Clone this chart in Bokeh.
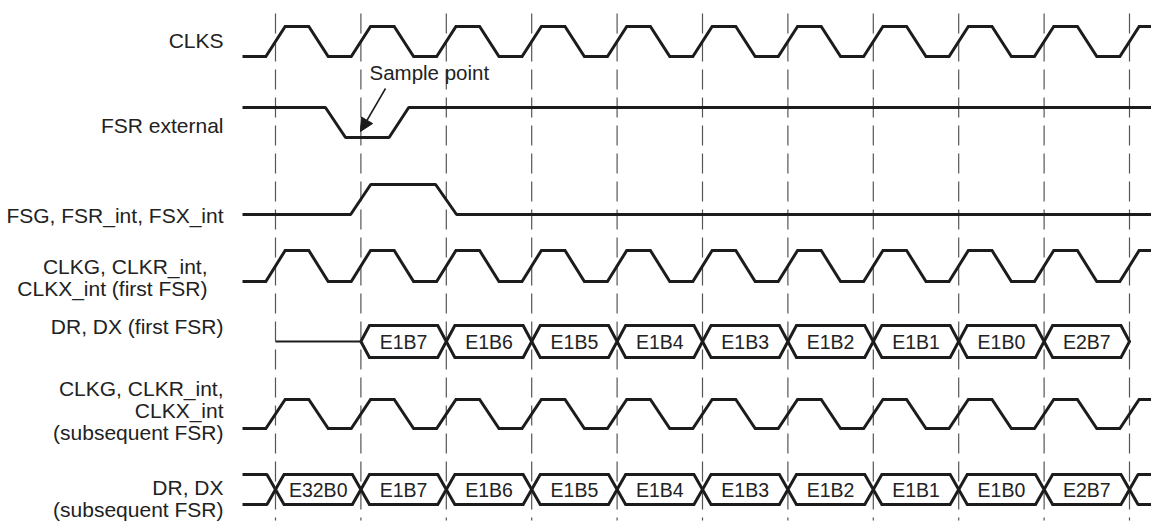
from bokeh.plotting import figure
from bokeh.models import Range1d, Arrow, NormalHead
from bokeh.embed import file_html
from bokeh.resources import INLINE
from bokeh.core.properties import value

# ---------------- data (time in clock periods) ----------------
clock_rise_centers = [0, 1, 2, 3, 4, 5, 6, 7, 8, 9, 10, 11]
fsr_fall = [0.585, 0.82]      # FSR external falling edge (start, end)
fsr_rise = [1.33, 1.56]       # FSR external rising edge (start, end)
fsg_rise = [0.88, 1.115]      # FSG rising edge
fsg_fall = [1.875, 2.12]      # FSG falling edge
sample_point_t = 1.0

dr_first_start = [1, 2, 3, 4, 5, 6, 7, 8, 9]
dr_first_labels = ["E1B7", "E1B6", "E1B5", "E1B4", "E1B3", "E1B2", "E1B1", "E1B0", "E2B7"]
dr_sub_start = [0, 1, 2, 3, 4, 5, 6, 7, 8, 9]
dr_sub_labels = ["E32B0", "E1B7", "E1B6", "E1B5", "E1B4", "E1B3", "E1B2", "E1B1", "E1B0", "E2B7"]

row_label_lines = [
    ["CLKS"],
    ["FSR external"],
    ["FSG, FSR_int, FSX_int"],
    ["CLKG, CLKR_int,", "CLKX_int (first FSR)"],
    ["DR, DX (first FSR)"],
    ["CLKG, CLKR_int,", "CLKX_int", "(subsequent FSR)"],
    ["DR, DX", "(subsequent FSR)"],
]
grid_lines_t = list(range(0, 11))

# ---------------- layout (page pixel based) ----------------
W, H = 1151, 523
PX0, PPER = 275.0, 85.4            # page x of t=0, pixels per period
def t_of(px):
    return (px - PX0) / PPER

T_LEFT = t_of(242)
T_RIGHT = t_of(1160)

rows = {
    "clks": (26, 56), "fsr": (107, 137), "fsg": (184, 214), "clkg1": (250, 281),
    "dr1": (325, 357), "clkg2": (399, 428), "dr2": (474, 504),
}
label_centers = [[39.5], [124.5], [214.5], [266, 288], [326], [388, 410, 432], [487, 509]]
label_right = [223, 223, 223, 207, 223, 223, 223]

p = figure(width=W, height=H, output_backend="svg", toolbar_location=None,
           x_range=Range1d(t_of(0), t_of(W)), y_range=Range1d(H, 0),
           min_border=0, border_fill_color="white", background_fill_color="white")
p.axis.visible = False
p.grid.visible = False
p.outline_line_color = None

INK = "#1c1c1c"
LW = 3

# dashed reference lines
p.multi_line(xs=[[t, t] for t in grid_lines_t], ys=[[13, 520]] * len(grid_lines_t),
             line_color="#555555", line_width=1.2, line_dash="20 8")

# clock waveform
R, HI_END, LO_START = 0.113, 0.39, 0.617
def clock(hi, lo):
    xs, ys = [T_LEFT], [lo]
    for k in clock_rise_centers:
        xs += [k - R, k + R, k + HI_END, k + LO_START]
        ys += [lo, hi, hi, lo]
    return xs, ys

for key in ("clks", "clkg1", "clkg2"):
    hi, lo = rows[key]
    xs, ys = clock(hi, lo)
    p.line(xs, ys, line_color=INK, line_width=LW, line_join="miter")

# FSR external
hi, lo = rows["fsr"]
p.line([T_LEFT, fsr_fall[0], fsr_fall[1], fsr_rise[0], fsr_rise[1], T_RIGHT],
       [hi, hi, lo, lo, hi, hi], line_color=INK, line_width=LW)

# FSG
hi, lo = rows["fsg"]
p.line([T_LEFT, fsg_rise[0], fsg_rise[1], fsg_fall[0], fsg_fall[1], T_RIGHT],
       [lo, lo, hi, hi, lo, lo], line_color=INK, line_width=LW)

# bus boxes
C = 0.1
def box(a, b, top, bot):
    mid = (top + bot) / 2
    return ([a, a + C, b - C, b, b - C, a + C, a], [mid, top, top, mid, bot, bot, mid])

def draw_bus(starts, labels, key):
    top, bot = rows[key]
    mid = (top + bot) / 2
    bx, by = [], []
    for s in starts:
        x, y = box(s, s + 1, top, bot)
        bx.append(x); by.append(y)
    p.multi_line(bx, by, line_color=INK, line_width=LW, line_join="miter")
    p.text(x=[s + 0.5 for s in starts], y=[mid + 0.5] * len(starts), text=labels,
           text_align="center", text_baseline="middle",
           text_font=value("Liberation Sans"), text_font_size="19.5px", text_color="#222222")
    return top, bot, mid

# DR first FSR
top, bot, mid = draw_bus(dr_first_start, dr_first_labels, "dr1")
p.line([0, dr_first_start[0]], [mid, mid], line_color=INK, line_width=2)

# DR subsequent FSR
top, bot, mid = draw_bus(dr_sub_start, dr_sub_labels, "dr2")
first, last = dr_sub_start[0], dr_sub_start[-1] + 1
p.multi_line([[T_LEFT, first - C, first], [T_LEFT, first - C, first],
              [T_RIGHT, last + C, last], [T_RIGHT, last + C, last]],
             [[top, top, mid], [bot, bot, mid], [top, top, mid], [bot, bot, mid]],
             line_color=INK, line_width=LW)

# row labels
lx, ly, lt = [], [], []
for lines, cents, rx in zip(row_label_lines, label_centers, label_right):
    for txt, c in zip(lines, cents):
        lx.append(t_of(rx)); ly.append(c); lt.append(txt)
p.text(x=lx, y=ly, text=lt, text_align="right", text_baseline="middle",
       text_font=value("Liberation Sans"), text_font_size="21px", text_color="#222222")

# sample point annotation
p.text(x=[t_of(369)], y=[71.5], text=["Sample point"], text_align="left",
       text_baseline="middle", text_font=value("Liberation Sans"),
       text_font_size="20.5px", text_color="#222222")
p.add_layout(Arrow(end=NormalHead(size=13, fill_color=INK, line_color=INK, line_width=1),
                   x_start=t_of(385), y_start=88, x_end=sample_point_t - 0.005,
                   y_end=rows["fsr"][1] - 6, line_color=INK, line_width=1.5))

open("out.html", "w").write(file_html(p, INLINE))
